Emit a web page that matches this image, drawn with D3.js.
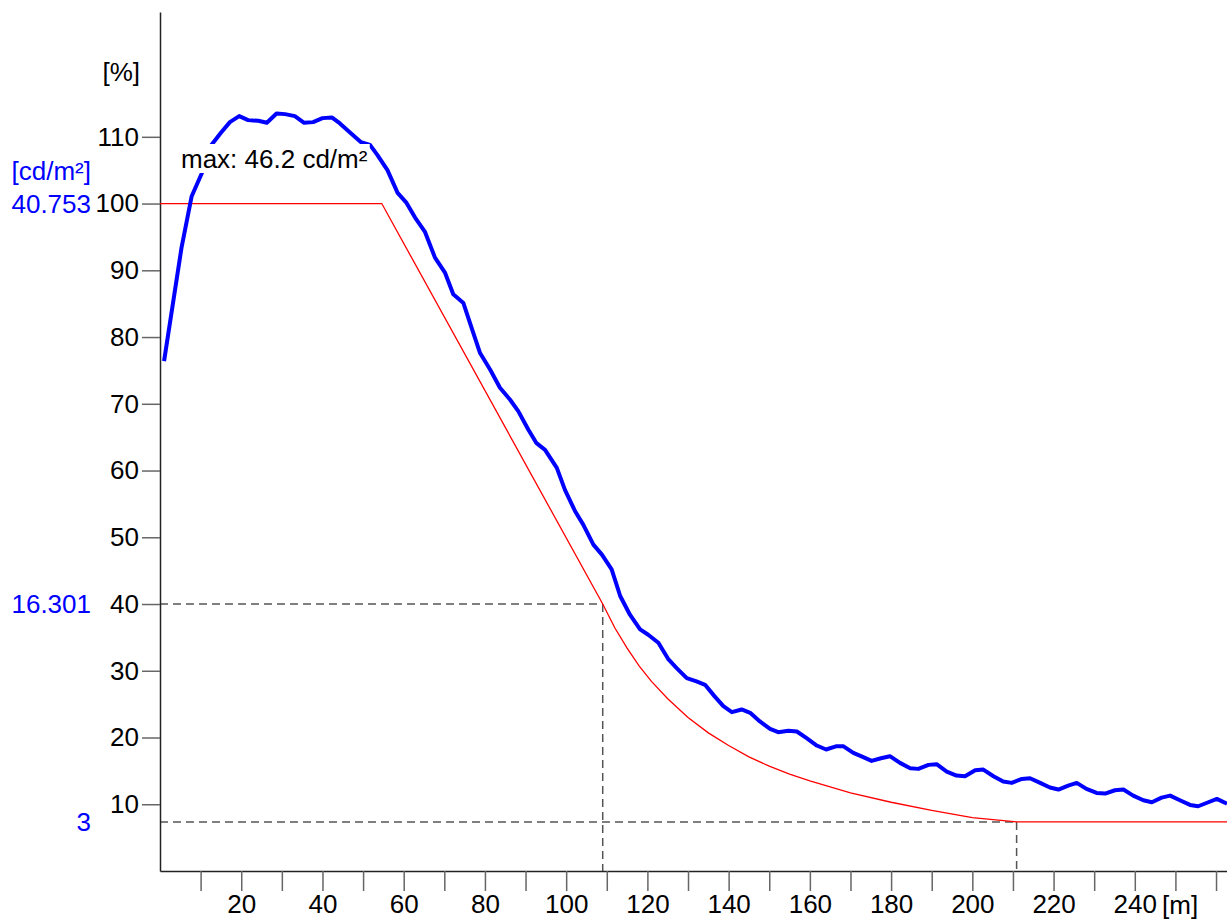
<!DOCTYPE html>
<html>
<head>
<meta charset="utf-8">
<script src="https://d3js.org/d3.v7.min.js"></script>
<style>
  body { margin: 0; background: #fff; }
  text { font-family: "Liberation Sans", Arial, sans-serif; }
</style>
</head>
<body>
<script>
// measured luminance, in % of the threshold level (x in m)
var measDist = [1.0, 5.3, 7.8, 10.7, 12.7, 15.0, 17.2, 19.5, 21.7, 24.2, 26.3, 28.7, 30.8, 33.2, 35.5, 37.7,
  40.0, 42.3, 44.3, 46.5, 49.5, 51.7, 53.5, 56.0, 58.5, 60.7, 62.8, 65.2, 67.7, 70.2, 72.2, 74.7, 76.7,
  78.8, 81.3, 83.7, 86.2, 88.2, 90.7, 92.7, 94.8, 97.7, 99.7, 102.2, 104.2, 106.7, 108.8, 111.2, 113.3,
  115.7, 118.2, 120.2, 122.7, 125.2, 127.2, 129.7, 132.1, 134.2, 136.5, 138.7, 140.8, 143.2, 145.3,
  147.7, 150.2, 152.2, 154.7, 156.8, 159.2, 161.7, 164.0, 166.6, 168.2, 170.7, 173.0, 175.2, 177.5,
  179.7, 182.2, 184.7, 186.7, 189.2, 191.2, 193.7, 196.1, 198.2, 200.7, 202.7, 205.2, 207.6, 209.7,
  212.2, 214.2, 216.7, 219.1, 221.2, 223.6, 225.7, 228.1, 230.6, 232.7, 235.1, 237.2, 239.6, 242.1,
  244.2, 246.6, 248.7, 251.1, 253.6, 255.6, 258.1, 260.2, 262.7];
var measPct = [76.4, 93.4, 101.1, 105.1, 108.8, 110.6, 112.2, 113.1, 112.5, 112.4, 112.1, 113.5, 113.4, 113.1, 112.1, 112.2,
  112.8, 112.9, 112.0, 110.8, 109.2, 108.8, 107.3, 105.0, 101.6, 100.1, 97.9, 95.8, 91.9, 89.6, 86.4, 85.1, 81.4,
  77.6, 75.1, 72.4, 70.6, 68.9, 66.1, 64.1, 63.1, 60.4, 57.1, 53.9, 51.9, 48.9, 47.4, 45.2, 41.2,
  38.4, 36.2, 35.4, 34.2, 31.7, 30.4, 28.9, 28.4, 27.9, 26.2, 24.7, 23.8, 24.2, 23.7,
  22.4, 21.3, 20.8, 21.0, 20.9, 19.9, 18.8, 18.2, 18.7, 18.7, 17.7, 17.1, 16.5, 16.9,
  17.2, 16.2, 15.4, 15.3, 15.9, 16.0, 14.9, 14.3, 14.2, 15.1, 15.2, 14.2, 13.4, 13.2,
  13.8, 13.9, 13.2, 12.5, 12.2, 12.8, 13.2, 12.3, 11.7, 11.6, 12.1, 12.2, 11.3, 10.6,
  10.3, 11.0, 11.3, 10.6, 9.9, 9.7, 10.3, 10.8, 10.1];

// required level curve (red)
var reqDist = [0, 54.6, 109, 112, 115, 118, 121, 125, 130, 135, 140, 145, 150, 155, 160, 170, 180, 190, 200, 210.9, 262.7];
var reqPct  = [100, 100, 40, 36.4, 33.4, 30.7, 28.4, 25.8, 23.0, 20.7, 18.8, 17.1, 15.7, 14.5, 13.5, 11.7, 10.3, 9.1, 8.0, 7.36, 7.36];

// reference marks
var refDist = [109, 210.9];
var refPct = [40, 7.36];
var luxLevels = [100, 40, 7.36];
var luxLabels = ["40.753", "16.301", "3"];

var yTicks = [10, 20, 30, 40, 50, 60, 70, 80, 90, 100, 110];
var xTicks = d3.range(10, 261, 10);
var maxLabel = "max: 46.2 cd/m²";

var W = 1227, H = 919, FS = "26px";
var svg = d3.select("body").append("svg").attr("width", W).attr("height", H);

var x = d3.scaleLinear().domain([0, 262.7]).range([160, 1227]);
var y = d3.scaleLinear().domain([0, 128.7]).range([871, 12]);

// dashed guides
var dash = svg.append("g").attr("stroke", "#555").attr("stroke-width", 1.5)
  .attr("stroke-dasharray", "8,5").attr("fill", "none");
refDist.forEach(function(d, i) {
  dash.append("line").attr("x1", x(0)).attr("x2", x(d)).attr("y1", y(refPct[i])).attr("y2", y(refPct[i]));
  dash.append("line").attr("x1", x(d)).attr("x2", x(d)).attr("y1", y(refPct[i])).attr("y2", y(0));
});

// axes
var yAxis = svg.append("g").attr("transform", "translate(160,0)")
  .call(d3.axisLeft(y).tickValues(yTicks).tickSize(18).tickSizeOuter(0).tickPadding(3));
var xAxis = svg.append("g").attr("transform", "translate(0,871)")
  .call(d3.axisBottom(x).tickValues(xTicks).tickSize(20).tickSizeOuter(0).tickPadding(4)
    .tickFormat(function(d) { return (d % 20 === 0 && d <= 240) ? d : ""; }));
[yAxis, xAxis].forEach(function(a) {
  a.attr("font-size", null).attr("font-family", null);
  a.select(".domain").attr("stroke", "#222").attr("stroke-width", 1.5);
  a.selectAll(".tick line").attr("stroke", "#666").attr("stroke-width", 1.5);
  a.selectAll(".tick text").attr("fill", "#000").style("font-size", FS);
});

svg.append("text").attr("x", 140).attr("y", 81).attr("text-anchor", "end")
  .style("font-size", FS).text("[%]");
svg.append("text").attr("x", 1162).attr("y", 914)
  .style("font-size", FS).text("[m]");

// blue cd/m² labels
svg.append("text").attr("x", 91).attr("y", 180).attr("text-anchor", "end")
  .attr("fill", "#0000ff").style("font-size", FS).text("[cd/m²]");
svg.selectAll(".lux").data(luxLevels).enter().append("text")
  .attr("x", 91).attr("y", function(d) { return y(d); }).attr("dy", "0.35em")
  .attr("text-anchor", "end").attr("fill", "#0000ff").style("font-size", FS)
  .text(function(d, i) { return luxLabels[i]; });

// required curve
var line = d3.line().x(function(d) { return x(d[0]); }).y(function(d) { return y(d[1]); });
svg.append("path").datum(d3.zip(reqDist, reqPct)).attr("d", line)
  .attr("fill", "none").attr("stroke", "#ff0000").attr("stroke-width", 1.3);

// measured curve
svg.append("path").datum(d3.zip(measDist, measPct)).attr("d", line)
  .attr("fill", "none").attr("stroke", "#0000ff").attr("stroke-width", 4)
  .attr("stroke-linejoin", "round");

// max label with white box
var mg = svg.append("g");
var mt = mg.append("text").attr("x", 181).attr("y", 168)
  .style("font-size", FS).attr("fill", "#000").text(maxLabel);
var bb = mt.node().getBBox();
mg.insert("rect", "text").attr("x", bb.x - 4).attr("y", bb.y)
  .attr("width", bb.width + 6).attr("height", bb.height - 1).attr("fill", "#fff");
</script>
</body>
</html>
